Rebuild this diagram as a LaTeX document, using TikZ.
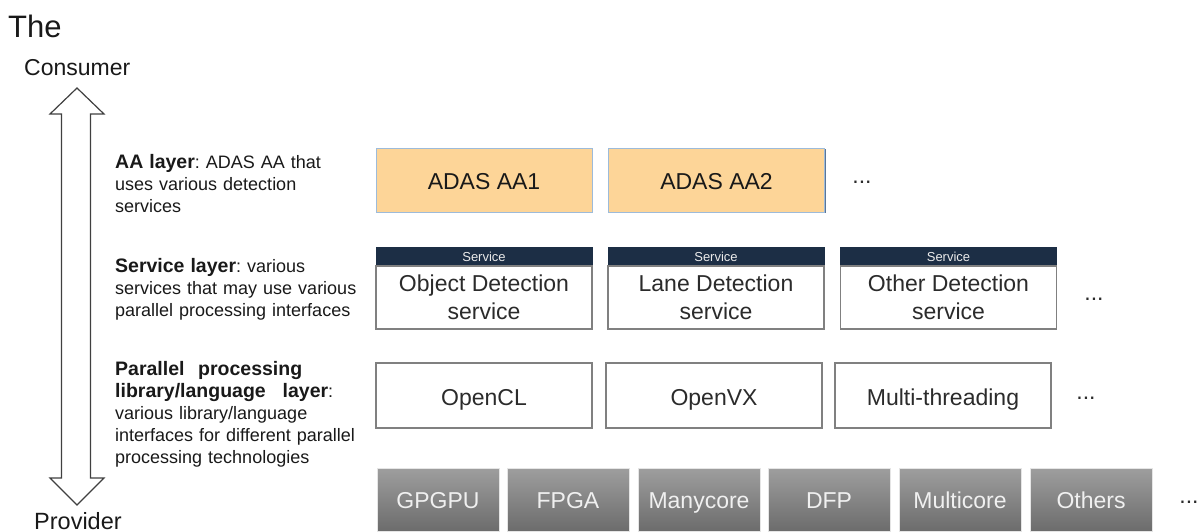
\documentclass[tikz,border=0pt]{standalone}
\usepackage{fontspec}
\setmainfont{Liberation Sans}
\usetikzlibrary{shadows}
\frenchspacing
\definecolor{aafill}{HTML}{FDD598}
\definecolor{aaedge}{HTML}{9DBBDA}
\definecolor{aashadow}{HTML}{5A7699}
\definecolor{navy}{HTML}{1C2E45}
\definecolor{boxedge}{HTML}{808080}
\definecolor{txt}{HTML}{2B2B2B}
\definecolor{hwtop}{HTML}{9E9E9E}
\definecolor{hwbot}{HTML}{6C6C6C}
\newcommand{\lbold}[1]{{\fontsize{19.5}{22}\selectfont\bfseries #1}}
\begin{document}
\begin{tikzpicture}[x=1pt,y=-1pt,
  layertext/.style={anchor=base west, inner sep=0pt, text width=260pt, align=left,
    font=\fontsize{18}{22}\selectfont\frenchspacing, text=black!90},
  aabox/.style={draw=aaedge, fill=aafill, line width=0.8pt, minimum width=216pt,
    minimum height=64pt, inner sep=0pt, font=\fontsize{23}{28}\selectfont,
    text=black!90, text height=18pt, text depth=0pt,
    drop shadow={shadow xshift=1.2pt, shadow yshift=-1.2pt, fill=aashadow, opacity=1}},
  svchead/.style={draw=navy, fill=navy, line width=0.8pt, minimum width=216pt,
    minimum height=19pt, inner sep=0pt, font=\fontsize{13}{15}\selectfont,
    text=white!92!black, text height=9.5pt, text depth=0pt},
  svcbody/.style={draw=boxedge, fill=white, line width=1.2pt, minimum width=216pt,
    minimum height=63pt, inner sep=0pt, align=center,
    font=\fontsize{23}{28}\selectfont, text=txt},
  plbox/.style={draw=boxedge, fill=white, line width=1.2pt, minimum width=216pt,
    minimum height=65pt, inner sep=0pt, font=\fontsize{23}{28}\selectfont,
    text=txt, text height=19pt, text depth=0pt},
  hwbox/.style={draw=white!80!gray, line width=0.5pt, top color=hwtop, bottom color=hwbot,
    minimum width=122pt, minimum height=63pt, inner sep=0pt,
    font=\fontsize{23}{28}\selectfont, text=white!94!black, text height=17pt, text depth=0pt},
  dots/.style={inner sep=0pt, font=\fontsize{23}{28}\selectfont, text=txt},
  bigtext/.style={anchor=base west, inner sep=0pt, text=black!90}
]
\useasboundingbox (0,0) rectangle (1202,531);

% titles
\node[bigtext, font=\fontsize{31}{36}\selectfont] (the) at (8,37) {The};
\node[bigtext, font=\fontsize{23}{28}\selectfont] (consumer) at (24,75) {Consumer};
\node[bigtext, font=\fontsize{23.5}{28}\selectfont] (provider) at (34,529) {Provider};

% double block arrow
\draw[line width=1.2pt, draw=black!75, fill=white, line join=miter]
  (77,88) -- (104,114) -- (90.5,114) -- (90.5,478) -- (104,478) -- (77,505)
  -- (50,478) -- (61.5,478) -- (61.5,114) -- (50,114) -- cycle;

% layer descriptions
\node[layertext] (lt1) at (115,168) {\lbold{AA layer}: ADAS AA that\\uses various detection\\services};
\node[layertext] (lt2) at (115,272) {\lbold{Service layer}: various\\services that may use various\\parallel processing interfaces};
\node[layertext] (lt3) at (115,375) {\makebox[187pt][l]{\lbold{Parallel}\hfill\lbold{processing}}\\\makebox[218pt][l]{\lbold{library/language}\hfill\lbold{layer}:}\\various library/language\\interfaces for different parallel\\processing technologies};

% AA layer
\node[aabox] (aa1) at (484,180) {ADAS AA1};
\node[aabox] (aa2) at (716.5,180) {ADAS AA2};
\node[dots] (aadots) at (862,182) {...};

% service layer
\node[svchead] (h1) at (484,256.5) {Service};
\node[svcbody] (s1) at (484,297.5) {Object Detection\\service};
\node[svchead] (h2) at (716,256.5) {Service};
\node[svcbody] (s2) at (716,297.5) {Lane Detection\\service};
\node[svchead] (h3) at (948.5,256.5) {Service};
\node[svcbody] (s3) at (948.5,297.5) {Other Detection\\service};
\node[dots] (svdots) at (1094,299) {...};

% parallel processing layer
\node[plbox] (p1) at (484,395.5) {OpenCL};
\node[plbox] (p2) at (714,395.5) {OpenVX};
\node[plbox] (p3) at (943,395.5) {Multi-threading};
\node[dots] (pldots) at (1086,398) {...};

% hardware
\node[hwbox] (hw1) at (438,499.5) {GPGPU};
\node[hwbox] (hw2) at (568,499.5) {FPGA};
\node[hwbox] (hw3) at (699,499.5) {Manycore};
\node[hwbox] (hw4) at (829,499.5) {DFP};
\node[hwbox] (hw5) at (960,499.5) {Multicore};
\node[hwbox] (hw6) at (1091,499.5) {Others};
\node[dots] (hwdots) at (1189,502) {...};
\end{tikzpicture}
\end{document}
